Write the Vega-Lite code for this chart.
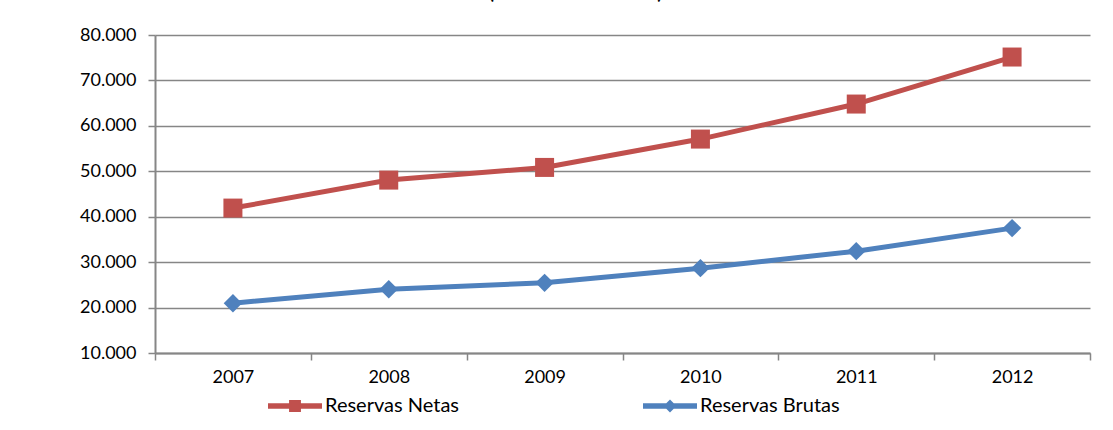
{
  "$schema": "https://vega.github.io/schema/vega-lite/v6.json",
  "autosize": {"type": "none"},
  "width": 935,
  "height": 318,
  "padding": {"left": 155, "top": 35, "right": 23, "bottom": 77},
  "background": "white",
  "title": {
    "text": "(Millones de dólares)",
    "fontSize": 19,
    "fontWeight": "bold",
    "font": "Lato",
    "color": "#000000",
    "baseline": "bottom",
    "offset": 8,
    "dx": -47,
    "dy": 4,
    "anchor": "middle"
  },
  "config": {
    "locale": {"number": {"decimal": ",", "thousands": ".", "grouping": [3], "currency": ["", ""]}},
    "view": {"stroke": null},
    "font": "Lato",
    "axis": {"labelFont": "Lato", "labelFontSize": 18, "labelColor": "#000000", "domainColor": "#868686", "tickColor": "#868686", "gridColor": "#868686"}
  },
  "data": {
    "values": [
      {"year": "2007", "serie": "Reservas Netas", "valor": 41900},
      {"year": "2008", "serie": "Reservas Netas", "valor": 48060},
      {"year": "2009", "serie": "Reservas Netas", "valor": 50850},
      {"year": "2010", "serie": "Reservas Netas", "valor": 57090},
      {"year": "2011", "serie": "Reservas Netas", "valor": 64800},
      {"year": "2012", "serie": "Reservas Netas", "valor": 75150},
      {"year": "2007", "serie": "Reservas Brutas", "valor": 20970},
      {"year": "2008", "serie": "Reservas Brutas", "valor": 24050},
      {"year": "2009", "serie": "Reservas Brutas", "valor": 25440},
      {"year": "2010", "serie": "Reservas Brutas", "valor": 28680},
      {"year": "2011", "serie": "Reservas Brutas", "valor": 32420},
      {"year": "2012", "serie": "Reservas Brutas", "valor": 37490}
    ]
  },
  "encoding": {
    "x": {
      "field": "year",
      "type": "ordinal",
      "bandPosition": 0.5,
      "scale": {"type": "band", "paddingInner": 0, "paddingOuter": 0},
      "axis": {
        "title": null,
        "labelAngle": 0,
        "tickBand": "extent",
        "tickSize": 7,
        "tickWidth": 1.5,
        "domainWidth": 2,
        "labelPadding": 8,
        "grid": false
      }
    },
    "y": {
      "field": "valor",
      "type": "quantitative",
      "scale": {"domain": [10000, 80000], "nice": false, "zero": false},
      "axis": {
        "title": null,
        "values": [10000, 20000, 30000, 40000, 50000, 60000, 70000, 80000],
        "format": ",d",
        "tickSize": 7,
        "tickWidth": 1.5,
        "domainWidth": 2,
        "labelPadding": 12,
        "grid": true,
        "gridWidth": 1.5
      }
    },
    "color": {
      "field": "serie",
      "type": "nominal",
      "scale": {"domain": ["Reservas Netas", "Reservas Brutas"], "range": ["#C0504D", "#4F81BD"]},
      "legend": {
        "title": null,
        "orient": "none",
        "direction": "horizontal",
        "legendX": 113,
        "legendY": 344,
        "labelFont": "Lato",
        "labelFontSize": 20,
        "labelColor": "#000000",
        "labelOffset": 3,
        "columnPadding": 184,
        "symbolSize": 2916,
        "symbolStrokeWidth": 0,
        "encode": {
          "symbols": {
            "update": {
              "shape": {"signal": "datum.value === 'Reservas Netas' ? 'M-1,-0.1H1V0.1H-1Z M-0.22,-0.22H0.22V0.22H-0.22Z' : 'M-1,-0.1H1V0.1H-1Z M-0.24,0L0,-0.24L0.24,0L0,0.24Z'"},
              "fill": {"signal": "datum.value === 'Reservas Netas' ? '#C0504D' : '#4F81BD'"},
              "strokeWidth": {"value": 0},
              "opacity": {"value": 1}
            }
          }
        }
      }
    }
  },
  "layer": [
    {"mark": {"type": "line", "strokeWidth": 5}},
    {
      "transform": [{"filter": "datum.serie === 'Reservas Netas'"}],
      "mark": {"type": "point", "shape": "square", "filled": true, "opacity": 1, "size": 361}
    },
    {
      "transform": [{"filter": "datum.serie === 'Reservas Brutas'"}],
      "mark": {"type": "point", "shape": "diamond", "filled": true, "opacity": 1, "size": 340}
    }
  ]
}
